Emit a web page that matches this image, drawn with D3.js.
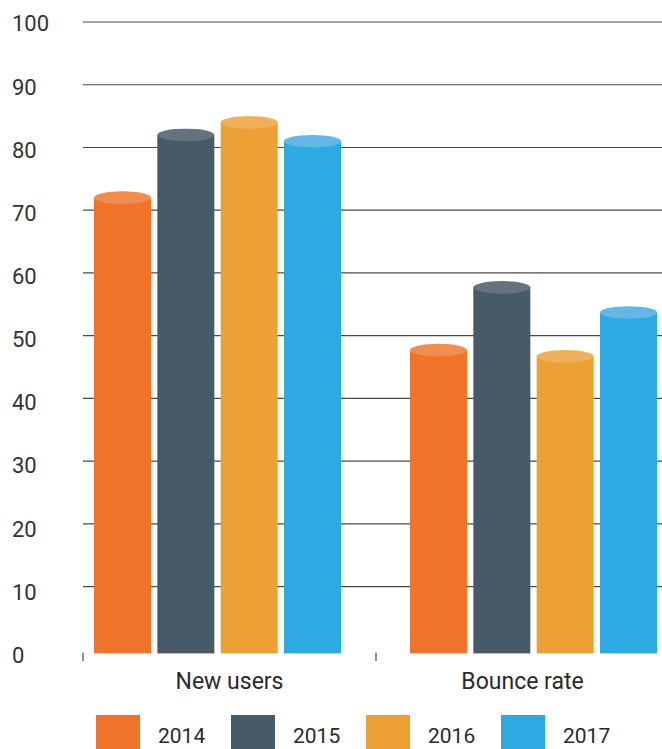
<!DOCTYPE html>
<html>
<head>
<meta charset="utf-8">
<script src="https://cdn.jsdelivr.net/npm/d3@7"></script>
<style>
  html, body { margin: 0; padding: 0; background: #fff; }
  svg { display: block; font-family: Roboto, "Liberation Sans", sans-serif; }
</style>
</head>
<body>
<svg id="chart" width="662" height="749"></svg>
<script>
const categories = ["New users", "Bounce rate"];
const seriesNames = ["2014", "2015", "2016", "2017"];
const v2014 = [72, 47.7];
const v2015 = [82, 57.7];
const v2016 = [84, 46.7];
const v2017 = [81, 53.7];
const yTicks = [0, 10, 20, 30, 40, 50, 60, 70, 80, 90, 100];
const bodyColors = ["#EF7429", "#465A69", "#EDA034", "#2EAAE2"];
const topColors  = ["#F18E4F", "#66737F", "#F0B05B", "#63B7E7"];

const seriesValues = [v2014, v2015, v2016, v2017];
const svg = d3.select("#chart");

const y = d3.scaleLinear().domain([0, 100]).range([649.4, 22]);
const yLabel = d3.scaleLinear().domain([0, 100]).range([655, 23.5]);

const xAxis = d3.scaleBand().domain(categories).range([83, 669]).padding(0);
const xBars = d3.scaleBand().domain(categories).range([94, 657]).paddingInner(69 / 316).paddingOuter(0);
const xInner = d3.scaleBand().domain(seriesNames).range([0, xBars.bandwidth()]).paddingInner(0.1).paddingOuter(0);

// gridlines
svg.append("g").selectAll("line")
  .data(yTicks.filter(d => d > 0))
  .join("line")
  .attr("x1", 83).attr("x2", 662)
  .attr("y1", d => y(d)).attr("y2", d => y(d))
  .attr("stroke", "#4a4a4a").attr("stroke-width", 1.2);

// y labels
svg.append("g").selectAll("text")
  .data(yTicks)
  .join("text")
  .attr("x", 12)
  .attr("y", d => yLabel(d))
  .attr("dy", "0.36em")
  .attr("font-size", 22)
  .attr("fill", "#333")
  .text(d => d);

// category ticks
svg.append("g").selectAll("line")
  .data(categories)
  .join("line")
  .attr("x1", d => xAxis(d)).attr("x2", d => xAxis(d))
  .attr("y1", 652.5).attr("y2", 661)
  .attr("stroke", "#444").attr("stroke-width", 1.2);

// category labels
svg.append("g").selectAll("text")
  .data(categories)
  .join("text")
  .attr("x", d => xAxis(d) + xAxis.bandwidth() / 2)
  .attr("y", 689)
  .attr("text-anchor", "middle")
  .attr("font-size", 23)
  .attr("fill", "#2a2a2a")
  .text(d => d);

// bars (cylinders)
const barData = [];
categories.forEach((c, ci) => {
  seriesNames.forEach((s, si) => {
    barData.push({ cat: c, series: s, si: si, value: seriesValues[si][ci] });
  });
});
const bw = xInner.bandwidth();
const ry = 6.3;
const barBottom = y(0) + 4;
const bars = svg.append("g").selectAll("g")
  .data(barData)
  .join("g");
bars.append("rect")
  .attr("x", d => xBars(d.cat) + xInner(d.series))
  .attr("y", d => y(d.value))
  .attr("width", bw)
  .attr("height", d => barBottom - y(d.value))
  .attr("fill", d => bodyColors[d.si]);
bars.append("ellipse")
  .attr("cx", d => xBars(d.cat) + xInner(d.series) + bw / 2)
  .attr("cy", d => y(d.value))
  .attr("rx", bw / 2)
  .attr("ry", ry)
  .attr("fill", d => topColors[d.si]);

// legend
const legend = svg.append("g").selectAll("g")
  .data(seriesNames)
  .join("g")
  .attr("transform", (d, i) => `translate(${96 + i * 135}, 715)`);
legend.append("rect")
  .attr("width", 44).attr("height", 44)
  .attr("fill", (d, i) => bodyColors[i]);
legend.append("text")
  .attr("x", 62).attr("y", 28)
  .attr("font-size", 21)
  .attr("fill", "#2a2a2a")
  .text(d => d);
</script>
</body>
</html>
